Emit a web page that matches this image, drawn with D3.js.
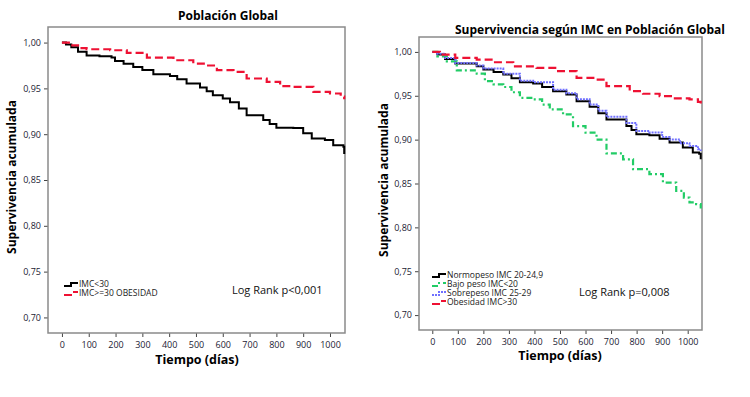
<!DOCTYPE html>
<html>
<head>
<meta charset="utf-8">
<script src="https://cdn.jsdelivr.net/npm/d3@7"></script>
<style>
  body { margin: 0; background: #fff; }
  svg { font-family: "Open Sans", "DejaVu Sans", sans-serif; }
</style>
</head>
<body>
<svg id="chart" width="750" height="397"></svg>
<script>
// ---- data ----
const xTicks = [0, 100, 200, 300, 400, 500, 600, 700, 800, 900, 1000];
const yTicks = [0.70, 0.75, 0.80, 0.85, 0.90, 0.95, 1.00];

// left panel: Población Global
const imcMenor30 = [[0,1.000],[15,0.998],[35,0.995],[60,0.990],[92,0.986],[140,0.985],[185,0.9836],[198,0.980],[230,0.977],[266,0.9734],[300,0.970],[341,0.9655],[403,0.9636],[430,0.960],[465,0.9553],[515,0.951],[540,0.947],[563,0.9426],[600,0.939],[627,0.935],[660,0.928],[689,0.9208],[751,0.9154],[775,0.911],[800,0.907],[863,0.9068],[900,0.901],[932,0.8954],[981,0.8936],[1012,0.888],[1050,0.8863],[1053,0.8783]];
const imcMayor30 = [[0,1.000],[30,0.997],[60,0.994],[92,0.9927],[180,0.9916],[242,0.9887],[317,0.9836],[416,0.9807],[490,0.977],[540,0.975],[578,0.970],[640,0.968],[689,0.9608],[764,0.957],[814,0.9524],[863,0.9516],[938,0.9462],[1000,0.9444],[1040,0.941],[1053,0.9382]];

// right panel: Supervivencia según IMC
const normopeso = [[0,1.000],[20,0.997],[50,0.992],[90,0.9867],[174,0.9837],[200,0.980],[240,0.977],[278,0.9742],[310,0.970],[343,0.9655],[395,0.964],[430,0.960],[473,0.9552],[525,0.9515],[565,0.9439],[616,0.9375],[650,0.930],[682,0.923],[760,0.9155],[780,0.911],[799,0.906],[850,0.905],[890,0.901],[929,0.8966],[981,0.891],[1020,0.8852],[1045,0.884],[1051,0.8776]];
const bajoPeso = [[0,1.000],[20,0.995],[57,0.9893],[96,0.979],[174,0.9753],[206,0.9666],[240,0.963],[278,0.960],[310,0.954],[343,0.9477],[395,0.9458],[430,0.940],[460,0.9344],[512,0.9287],[551,0.9155],[600,0.908],[643,0.900],[682,0.8844],[747,0.8776],[786,0.8663],[850,0.8606],[903,0.8511],[955,0.8416],[985,0.834],[1007,0.8284],[1033,0.8265],[1051,0.8216]];
const sobrepeso = [[0,1.000],[20,0.998],[50,0.993],[90,0.9875],[174,0.9845],[200,0.981],[278,0.975],[343,0.967],[395,0.9655],[473,0.957],[525,0.953],[565,0.946],[616,0.940],[650,0.933],[682,0.926],[760,0.919],[799,0.9098],[850,0.908],[900,0.903],[929,0.9003],[970,0.896],[1007,0.8927],[1040,0.889],[1051,0.887]];
const obesidad = [[0,1.000],[30,0.997],[90,0.9932],[174,0.9913],[239,0.9882],[317,0.9836],[408,0.9818],[486,0.978],[565,0.9705],[643,0.9685],[682,0.961],[773,0.9552],[825,0.9523],[890,0.9495],[942,0.947],[1007,0.9458],[1040,0.943],[1051,0.939]];

const styles = {
  black: { stroke: "#000", dash: null, width: 2 },
  red:   { stroke: "#ee1133", dash: "8,4", width: 2.2 },
  green: { stroke: "#22cc66", dash: "6,3,2,3", width: 2.2 },
  blue:  { stroke: "#7070ff", dash: "2,1", width: 2 }
};

const svg = d3.select("#chart");

function drawPanel(p) {
  const x = d3.scaleLinear().domain([-52, 1056]).range([p.left, p.right]);
  const y = d3.scaleLinear().domain([0.683, 1.017]).range([p.bottom, p.top]);
  const g = svg.append("g");

  // axes
  const xAxis = d3.axisBottom(x).tickValues(xTicks).tickSize(4).tickSizeOuter(0)
      .tickFormat(d3.format("d"));
  const yAxis = d3.axisLeft(y).tickValues(yTicks).tickSize(4).tickSizeOuter(0)
      .tickFormat(d => d3.format(".2f")(d).replace(".", ","));

  const gx = g.append("g").attr("transform", "translate(0," + p.bottom + ")").call(xAxis);
  const gy = g.append("g").attr("transform", "translate(" + p.left + ",0)").call(yAxis);
  [gx, gy].forEach(a => {
    a.select(".domain").remove();
    a.selectAll(".tick line").attr("stroke", "#444");
    a.selectAll(".tick text").attr("fill", "#1a1a33").style("font-size", "9px")
      .style("font-family", "'Open Sans', 'DejaVu Sans', sans-serif");
  });
  gx.selectAll(".tick text").attr("dy", "0.9em");

  // frame
  g.append("rect")
    .attr("x", p.left).attr("y", p.top)
    .attr("width", p.right - p.left).attr("height", p.bottom - p.top)
    .attr("fill", "none").attr("stroke", "#8a8a8a").attr("stroke-width", 1.5);

  // survival curves
  const line = d3.line().x(d => x(d[0])).y(d => y(d[1])).curve(d3.curveStepAfter);
  p.series.forEach(s => {
    const st = styles[s.style];
    g.append("path")
      .datum(s.values)
      .attr("d", line)
      .attr("fill", "none")
      .attr("stroke", st.stroke)
      .attr("stroke-width", st.width)
      .attr("stroke-dasharray", st.dash);
  });

  // legend
  p.series.forEach((s, i) => {
    const st = styles[s.style];
    const ly = p.legendY + i * p.legendStep;
    const lx = p.legendX;
    g.append("path")
      .attr("d", "M" + lx + "," + (ly + 2) + "h7v-3h7")
      .attr("fill", "none")
      .attr("stroke", st.stroke)
      .attr("stroke-width", 2)
      .attr("stroke-dasharray", st.dash);
    g.append("text")
      .attr("x", lx + 15).attr("y", ly + 3)
      .style("font-size", "8.5px").attr("fill", "#222")
      .text(s.name);
  });

  // log rank label
  g.append("text")
    .attr("x", p.logX).attr("y", p.logY)
    .style("font-size", "11px").attr("fill", "#111")
    .text(p.logText);

  // title
  g.append("text")
    .attr("x", p.titleX).attr("y", p.titleY)
    .attr("text-anchor", "middle")
    .style("font-size", "12px").style("font-weight", "bold")
    .text(p.title);

  // axis titles
  g.append("text")
    .attr("x", p.xLabelX).attr("y", p.xLabelY)
    .attr("text-anchor", "middle")
    .style("font-size", "12.5px").style("font-weight", "bold")
    .text("Tiempo (días)");
  g.append("text")
    .attr("transform", "translate(" + p.yLabelX + "," + p.yLabelY + ") rotate(-90)")
    .attr("text-anchor", "middle")
    .style("font-size", "12px").style("font-weight", "bold")
    .text("Supervivencia acumulada");
}

drawPanel({
  left: 48, right: 345, top: 27, bottom: 333,
  title: "Población Global", titleX: 228, titleY: 20,
  xLabelX: 197, xLabelY: 364, yLabelX: 16, yLabelY: 177,
  legendX: 64, legendY: 284, legendStep: 9,
  logX: 232, logY: 294, logText: "Log Rank p<0,001",
  series: [
    { name: "IMC<30", values: imcMenor30, style: "black" },
    { name: "IMC>=30 OBESIDAD", values: imcMayor30, style: "red" }
  ]
});

drawPanel({
  left: 419, right: 702, top: 37, bottom: 330,
  title: "Supervivencia según IMC en Población Global", titleX: 590, titleY: 34,
  xLabelX: 560, xLabelY: 360, yLabelX: 388, yLabelY: 180,
  legendX: 432, legendY: 275, legendStep: 9,
  logX: 579, logY: 296, logText: "Log Rank p=0,008",
  series: [
    { name: "Normopeso IMC 20-24,9", values: normopeso, style: "black" },
    { name: "Bajo peso IMC<20", values: bajoPeso, style: "green" },
    { name: "Sobrepeso IMC 25-29", values: sobrepeso, style: "blue" },
    { name: "Obesidad IMC>30", values: obesidad, style: "red" }
  ]
});
</script>
</body>
</html>
